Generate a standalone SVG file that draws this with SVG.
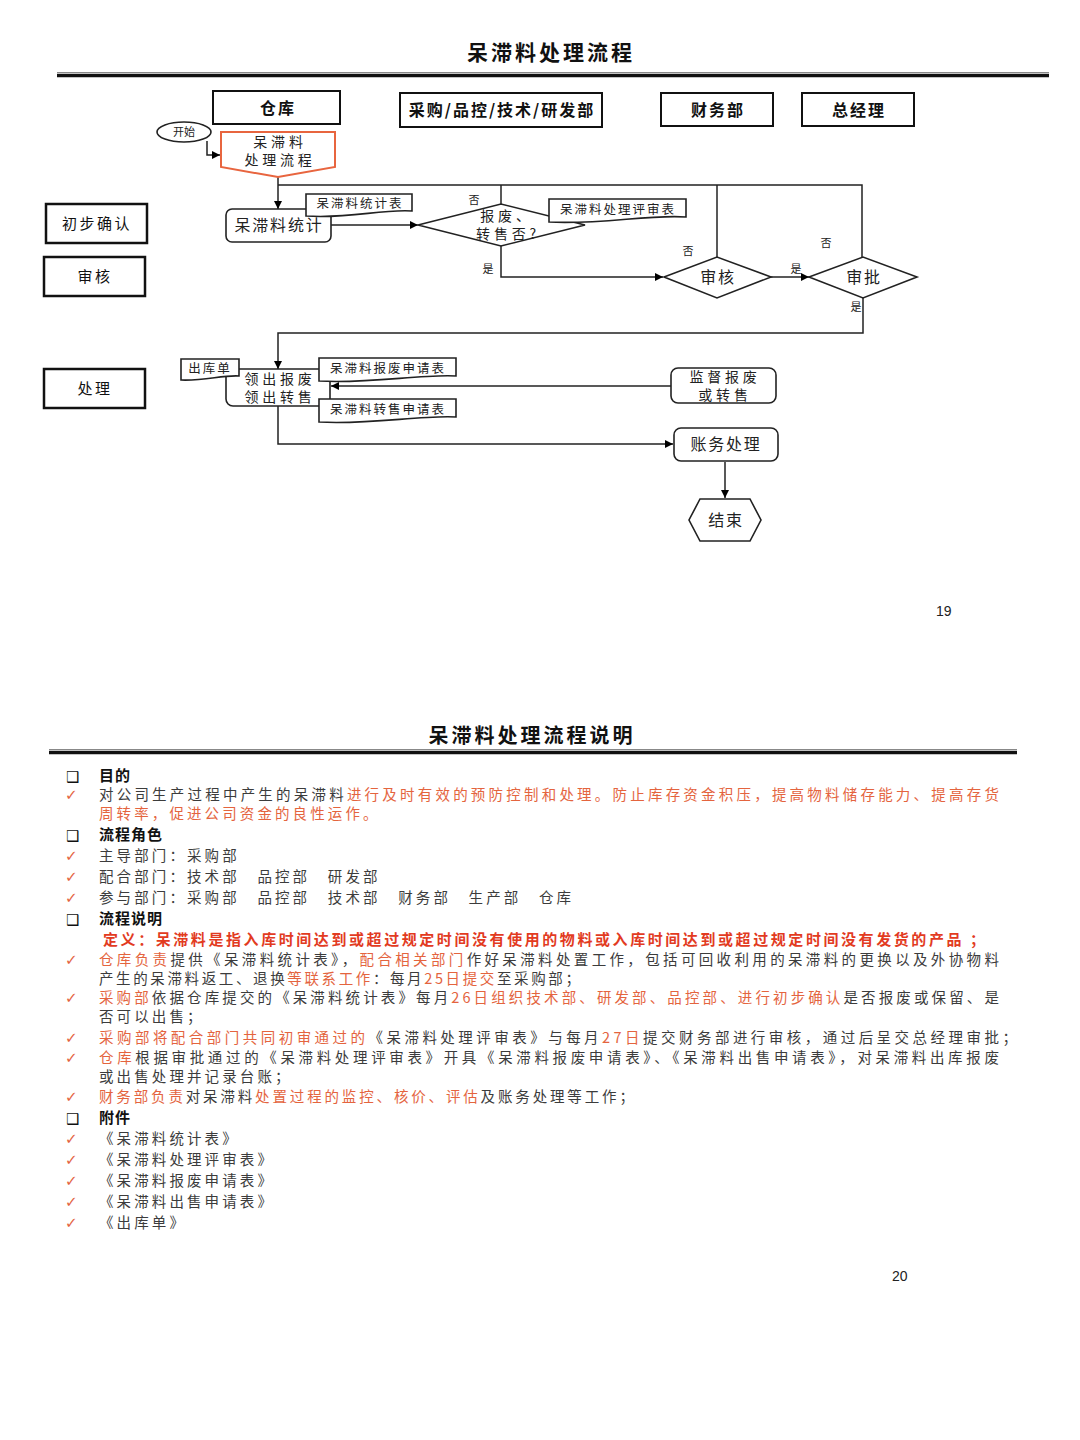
<svg xmlns="http://www.w3.org/2000/svg" width="1080" height="1440" viewBox="0 0 1080 1440">
<defs>
<marker id="arr" viewBox="0 0 10 10" refX="10" refY="5" markerWidth="8" markerHeight="8" markerUnits="userSpaceOnUse" orient="auto"><path d="M0,0 L10,5 L0,10 Z" fill="#000"/></marker>
<style>
.ttl{font-family:"Noto Sans CJK SC",sans-serif;font-weight:bold;fill:#111;text-anchor:middle}
.hdr{font-family:"Noto Sans CJK SC",sans-serif;font-size:16px;font-weight:bold;letter-spacing:2px;text-anchor:middle;fill:#111}
.lane{font-family:"Noto Sans CJK SC",sans-serif;font-size:15px;letter-spacing:2.5px;text-anchor:middle;fill:#111}
.hbox{fill:#fff;stroke:#111;stroke-width:2}
.lbox{fill:#fff;stroke:#111;stroke-width:2.5}
.nd{fill:#fff;stroke:#222;stroke-width:1.6}
.ntx{font-family:"Noto Sans CJK SC",sans-serif;font-size:16px;letter-spacing:1.8px;text-anchor:middle;fill:#222}
.ntx2{font-family:"Noto Sans CJK SC",sans-serif;font-size:14px;letter-spacing:3.8px;text-anchor:middle;fill:#222}
.dtx{font-family:"Noto Sans CJK SC",sans-serif;font-size:12.5px;letter-spacing:2px;text-anchor:middle;fill:#222}
.yn{font-family:"Noto Sans CJK SC",sans-serif;font-size:11px;text-anchor:middle;fill:#222}
.cn{fill:none;stroke:#222;stroke-width:1.5}
.body{font-family:"Noto Sans CJK SC",sans-serif;font-size:14.5px;letter-spacing:3.1px;fill:#3c3c3c}
.sec{font-family:"Noto Sans CJK SC",sans-serif;font-size:15px;font-weight:bold;letter-spacing:1px;fill:#111}
.or{fill:#e4643e}
.chk{font-family:"DejaVu Sans",sans-serif;font-size:15px;font-weight:bold;fill:#e4643e}
.sq{font-family:"DejaVu Sans",sans-serif;font-size:15px;fill:#111}
.pg{font-family:"Liberation Sans",sans-serif;font-size:14px;fill:#222}
</style>
</defs>

<!-- Page 1 header -->
<text class="ttl" x="551" y="60" font-size="21" letter-spacing="3">呆滞料处理流程</text>
<line x1="57" y1="72.5" x2="1049" y2="72.5" stroke="#888" stroke-width="1"/>
<line x1="57" y1="75.5" x2="1049" y2="75.5" stroke="#111" stroke-width="3.5"/>

<!-- Swimlane headers -->
<g id="hdr-warehouse"><rect class="hbox" x="213" y="91" width="127" height="33"/><text class="hdr" x="278" y="114">仓库</text></g>
<g id="hdr-purchase"><rect class="hbox" x="400" y="93" width="202" height="34"/><text class="hdr" x="502" y="116">采购/品控/技术/研发部</text></g>
<g id="hdr-finance"><rect class="hbox" x="661" y="93" width="112" height="33"/><text class="hdr" x="718" y="116">财务部</text></g>
<g id="hdr-gm"><rect class="hbox" x="802" y="93" width="112" height="33"/><text class="hdr" x="859" y="116">总经理</text></g>

<!-- Row labels -->
<g id="row-confirm"><rect class="lbox" x="46" y="204" width="101" height="39"/><text class="lane" x="97" y="229">初步确认</text></g>
<g id="row-review"><rect class="lbox" x="44" y="257" width="101" height="39"/><text class="lane" x="95" y="282">审核</text></g>
<g id="row-process"><rect class="lbox" x="44" y="369" width="101" height="39"/><text class="lane" x="95" y="394">处理</text></g>

<!-- Connectors -->
<g id="connectors">
<path class="cn" d="M207,141 V155 H220" marker-end="url(#arr)"/>
<path class="cn" d="M278,177 V209" marker-end="url(#arr)"/>
<path class="cn" d="M278,185 H862 V257"/>
<path class="cn" d="M501,185 V204"/>
<path class="cn" d="M717,185 V257"/>
<path class="cn" d="M331,225 H418" marker-end="url(#arr)"/>
<path class="cn" d="M501,246 V277 H663" marker-end="url(#arr)"/>
<path class="cn" d="M771,277 H809" marker-end="url(#arr)"/>
<path class="cn" d="M863,298 V333 H278 V369" marker-end="url(#arr)"/>
<path class="cn" d="M671,386 H331" marker-end="url(#arr)"/>
<path class="cn" d="M278,405 V444 H673" marker-end="url(#arr)"/>
<path class="cn" d="M725,462 V498" marker-end="url(#arr)"/>
<text class="yn" x="474" y="204">否</text>
<text class="yn" x="488" y="273">是</text>
<text class="yn" x="688" y="255">否</text>
<text class="yn" x="796" y="273">是</text>
<text class="yn" x="826" y="247">否</text>
<text class="yn" x="856" y="311">是</text>
</g>

<!-- Nodes -->
<g id="start"><ellipse class="nd" cx="184" cy="132" rx="27" ry="10"/><text class="yn" x="184" y="136">开始</text></g>

<g id="flow-start"><path d="M221,132 H335 V167 L278,177 L221,167 Z" fill="#fff" stroke="#e8653f" stroke-width="2"/>
<text class="ntx2" x="280" y="147">呆滞料</text><text class="ntx2" x="280" y="165">处理流程</text></g>

<g id="stat"><rect class="nd" x="226" y="209" width="105" height="33" rx="6"/><text class="ntx" x="279" y="231">呆滞料统计</text></g>
<g id="doc-stat"><path class="nd" d="M306,194 H412 V211 C380,209 350,219 306,216 Z"/><text class="dtx" x="360" y="208">呆滞料统计表</text></g>

<g id="decide"><path class="nd" d="M418,225 L501,204 L585,225 L501,246 Z"/><text class="ntx2" x="507" y="221">报废、</text><text class="ntx2" x="508" y="239">转售否?</text></g>
<g id="doc-review"><path class="nd" d="M549,199 H686 V217 C650,214 600,225 549,222 Z"/><text class="dtx" x="618" y="214">呆滞料处理评审表</text></g>

<g id="audit"><path class="nd" d="M664,277 L717,257 L771,277 L717,298 Z"/><text class="ntx" x="718" y="283">审核</text></g>
<g id="approve"><path class="nd" d="M809,277 L863,257 L917,277 L863,298 Z"/><text class="ntx" x="864" y="283">审批</text></g>

<g id="issue"><rect class="nd" x="226" y="369" width="104" height="37" rx="7"/><text class="ntx2" x="280" y="384">领出报废</text><text class="ntx2" x="280" y="402">领出转售</text></g>
<g id="doc-out"><path class="nd" d="M181,359 H239 V376 C222,375 205,381 181,380 Z"/><text class="dtx" x="210" y="373">出库单</text></g>
<g id="doc-scrap"><path class="nd" d="M319,358 H456 V376 C420,374 370,384 319,381 Z"/><text class="dtx" x="388" y="373">呆滞料报废申请表</text></g>
<g id="doc-sell"><path class="nd" d="M319,399 H456 V417 C420,415 370,425 319,422 Z"/><text class="dtx" x="388" y="414">呆滞料转售申请表</text></g>

<g id="supervise"><rect class="nd" x="671" y="368" width="105" height="35" rx="7"/><text class="ntx2" x="725" y="382">监督报废</text><text class="ntx2" x="725" y="400">或转售</text></g>
<g id="account"><rect class="nd" x="674" y="428" width="104" height="33" rx="7"/><text class="ntx" x="726" y="450">账务处理</text></g>
<g id="end"><path class="nd" d="M700,499 H750 L761,520 L750,541 H700 L689,520 Z"/><text class="ntx" x="726" y="526">结束</text></g>

<text class="pg" x="936" y="616">19</text>

<!-- Page 2 -->
<text class="ttl" x="532" y="743" font-size="20" letter-spacing="3">呆滞料处理流程说明</text>
<line x1="49" y1="749.5" x2="1017" y2="749.5" stroke="#888" stroke-width="1"/>
<line x1="49" y1="752.5" x2="1017" y2="752.5" stroke="#111" stroke-width="3.5"/>

<g id="text-body">
<text class="sq" x="66" y="782">❑</text><text class="sec" x="99" y="781">目的</text>
<text class="chk" x="65" y="800">✓</text>
<text class="body" x="99" y="800" textLength="903" lengthAdjust="spacing">对公司生产过程中产生的呆滞料<tspan class="or">进行及时有效的预防控制和处理。防止库存资金积压，提高物料储存能力、提高存货</tspan></text>
<text class="body or" x="99" y="819">周转率，促进公司资金的良性运作。</text>

<text class="sq" x="66" y="841">❑</text><text class="sec" x="99" y="840">流程角色</text>
<text class="chk" x="65" y="861">✓</text><text class="body" x="99" y="861">主导部门：采购部</text>
<text class="chk" x="65" y="882">✓</text><text class="body" x="99" y="882">配合部门：技术部　品控部　研发部</text>
<text class="chk" x="65" y="903">✓</text><text class="body" x="99" y="903">参与部门：采购部　品控部　技术部　财务部　生产部　仓库</text>

<text class="sq" x="66" y="925">❑</text><text class="sec" x="99" y="924">流程说明</text>
<text x="103" y="945" font-family="Noto Sans CJK SC, sans-serif" font-size="15" font-weight="bold" fill="#e23b1f" textLength="882" lengthAdjust="spacing">定义：呆滞料是指入库时间达到或超过规定时间没有使用的物料或入库时间达到或超过规定时间没有发货的产品 ；</text>

<text class="chk" x="65" y="965">✓</text>
<text class="body" x="99" y="965" textLength="903" lengthAdjust="spacing"><tspan class="or">仓库负责</tspan>提供《呆滞料统计表》，<tspan class="or">配合相关部门</tspan>作好呆滞料处置工作，包括可回收利用的呆滞料的更换以及外协物料</text>
<text class="body" x="99" y="984" textLength="484" lengthAdjust="spacing">产生的呆滞料返工、退换<tspan class="or">等联系工作</tspan>：每月<tspan class="or">25日提交</tspan>至采购部；</text>

<text class="chk" x="65" y="1003">✓</text>
<text class="body" x="99" y="1003" textLength="903" lengthAdjust="spacing"><tspan class="or">采购部</tspan>依据仓库提交的《呆滞料统计表》每月<tspan class="or">26日组织技术部、研发部、品控部、进行初步确认</tspan>是否报废或保留、是</text>
<text class="body" x="99" y="1022">否可以出售；</text>

<text class="chk" x="65" y="1043">✓</text>
<text class="body" x="99" y="1043" textLength="921" lengthAdjust="spacing"><tspan class="or">采购部将配合部门共同初审通过的</tspan>《呆滞料处理评审表》与每月<tspan class="or">27日</tspan>提交财务部进行审核，通过后呈交总经理审批；</text>

<text class="chk" x="65" y="1063">✓</text>
<text class="body" x="99" y="1063" textLength="903" lengthAdjust="spacing"><tspan class="or">仓库</tspan>根据审批通过的《呆滞料处理评审表》开具《呆滞料报废申请表》、《呆滞料出售申请表》，对呆滞料出库报废</text>
<text class="body" x="99" y="1082">或出售处理并记录台账；</text>

<text class="chk" x="65" y="1102">✓</text>
<text class="body" x="99" y="1102" textLength="538" lengthAdjust="spacing"><tspan class="or">财务部负责</tspan>对呆滞料<tspan class="or">处置过程的监控、核价、评估</tspan>及账务处理等工作；</text>

<text class="sq" x="66" y="1124">❑</text><text class="sec" x="99" y="1123">附件</text>
<text class="chk" x="65" y="1144">✓</text><text class="body" x="99" y="1144">《呆滞料统计表》</text>
<text class="chk" x="65" y="1165">✓</text><text class="body" x="99" y="1165">《呆滞料处理评审表》</text>
<text class="chk" x="65" y="1186">✓</text><text class="body" x="99" y="1186">《呆滞料报废申请表》</text>
<text class="chk" x="65" y="1207">✓</text><text class="body" x="99" y="1207">《呆滞料出售申请表》</text>
<text class="chk" x="65" y="1228">✓</text><text class="body" x="99" y="1228">《出库单》</text>
</g>

<text class="pg" x="892" y="1281">20</text>
</svg>
